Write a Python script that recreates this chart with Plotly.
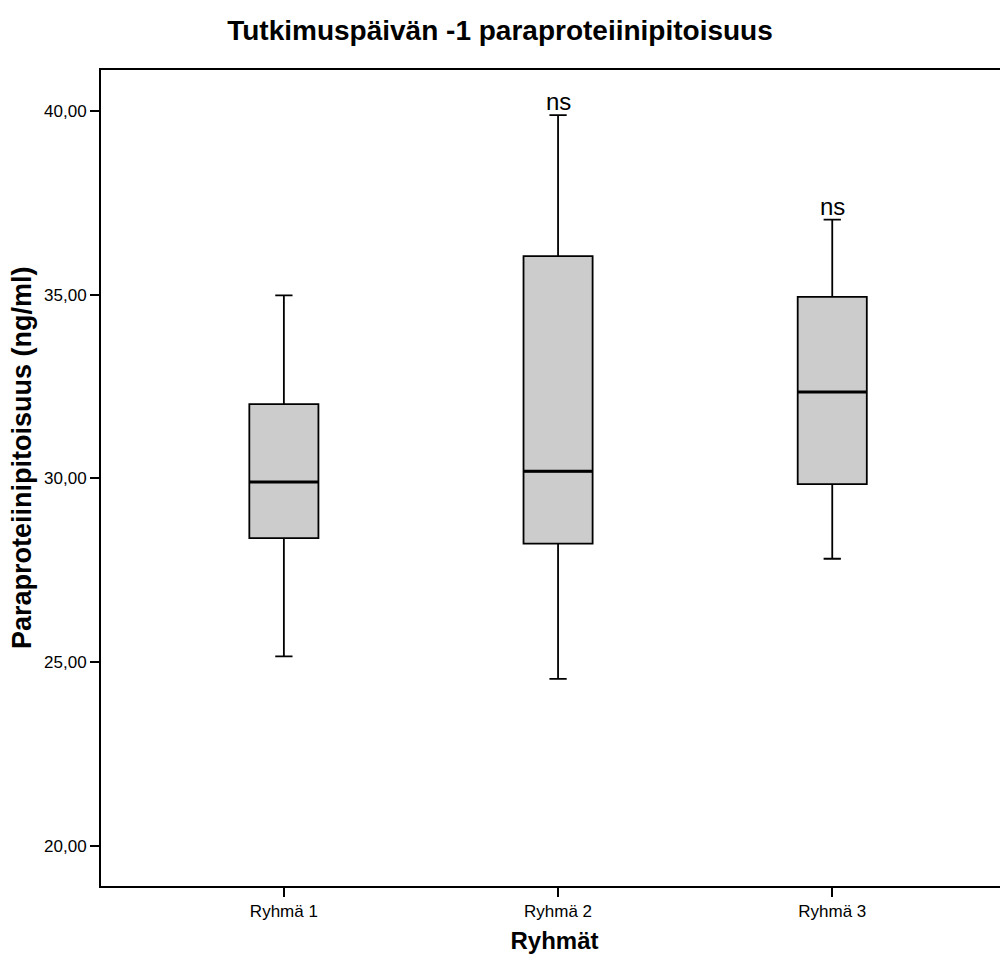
import plotly.graph_objects as go

groups = ["Ryhmä 1", "Ryhmä 2", "Ryhmä 3"]
lower_whisker = [25.15, 24.54, 27.81]
q1_vals = [28.37, 28.22, 29.84]
median_vals = [29.90, 30.19, 32.35]
q3_vals = [32.02, 36.05, 34.94]
upper_whisker = [34.98, 39.89, 37.04]
sig_labels = ["", "ns", "ns"]
y_ticks = [20, 25, 30, 35, 40]

pos = list(range(len(groups)))
box_w = 0.252
font = "Liberation Sans, Arial, sans-serif"

fig = go.Figure()
fig.add_trace(go.Box(
    x=pos, q1=q1_vals, median=median_vals, q3=q3_vals,
    lowerfence=lower_whisker, upperfence=upper_whisker,
    width=box_w, whiskerwidth=0.25,
    fillcolor="#cccccc", line=dict(color="black", width=1.8),
    boxpoints=False, showlegend=False, hoverinfo="skip",
))
# thicker median lines
for i, m in zip(pos, median_vals):
    fig.add_trace(go.Scatter(
        x=[i - box_w / 2, i + box_w / 2], y=[m, m], mode="lines",
        line=dict(color="black", width=3), showlegend=False, hoverinfo="skip",
    ))

for i, lab, uw in zip(pos, sig_labels, upper_whisker):
    if lab:
        fig.add_annotation(x=i, y=uw, text=lab, showarrow=False,
                           yanchor="bottom", yshift=-2,
                           font=dict(family=font, size=24, color="black"))

# y-axis title (placed as rotated annotation)
fig.add_annotation(text="<b>Paraproteiinipitoisuus (ng/ml)</b>", textangle=-90,
                   xref="paper", yref="paper", x=-0.0871, y=0.5245,
                   xanchor="center", yanchor="middle", showarrow=False,
                   font=dict(family=font, size=27, color="black"))

fig.update_layout(
    width=1000, height=950,
    margin=dict(l=93, r=0, t=62, b=72),
    paper_bgcolor="white", plot_bgcolor="white",
    separators=",.",
    font=dict(family=font, color="black"),
    title=dict(text="<b>Tutkimuspäivän -1 paraproteiinipitoisuus</b>",
               x=0.492, xref="container", xanchor="center",
               y=0.977, yanchor="middle",
               font=dict(family=font, size=28, color="black")),
)
fig.update_xaxes(
    range=[-0.667, 2.641], tickvals=pos, ticktext=groups,
    showline=True, linecolor="black", linewidth=2, mirror=True,
    ticks="outside", ticklen=9, tickwidth=2, tickcolor="black",
    showgrid=False, zeroline=False,
    tickfont=dict(family=font, size=17, color="black"),
    title=dict(text="<b>Ryhmät</b>", font=dict(family=font, size=24, color="black"), standoff=12),
)
fig.update_yaxes(
    range=[18.90, 41.116], tickvals=y_ticks, tickformat=".2f",
    showline=True, linecolor="black", linewidth=2, mirror=False,
    ticks="outside", ticklen=9, tickwidth=2, tickcolor="black",
    showgrid=False, zeroline=False,
    tickfont=dict(family=font, size=17, color="black"),
)

fig.write_html("out.html")
